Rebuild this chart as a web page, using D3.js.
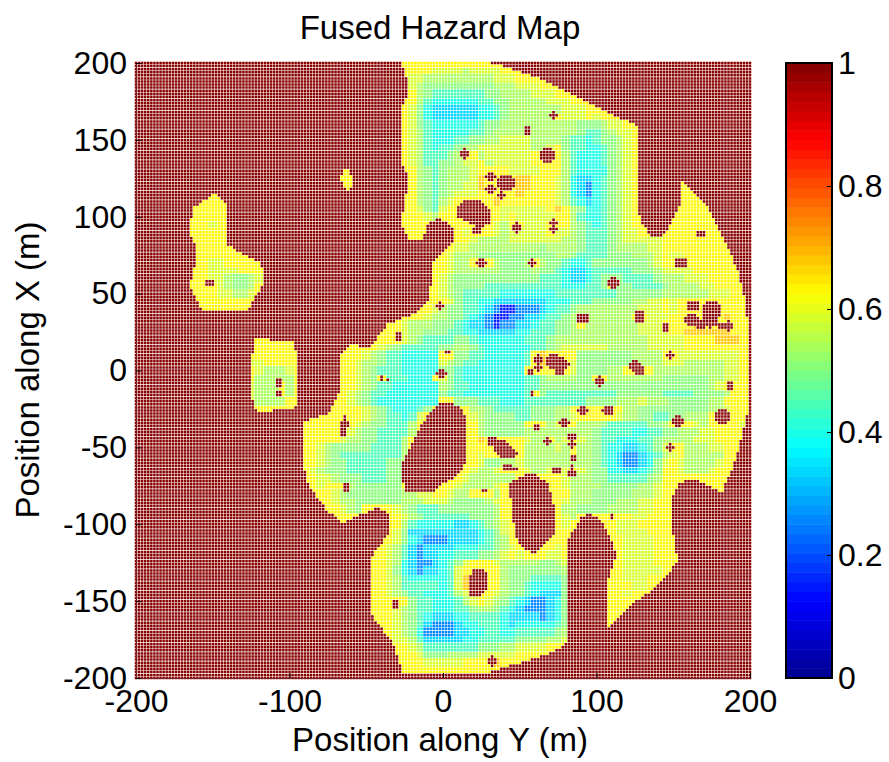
<!DOCTYPE html>
<html>
<head>
<meta charset="utf-8">
<script src="https://cdn.jsdelivr.net/npm/d3@7/dist/d3.min.js"></script>
<style>
  html, body { margin: 0; background: #fff; }
  text { font-family: "Liberation Sans", Arial, sans-serif; fill: #000; }
</style>
</head>
<body>
<svg id="chart" width="889" height="762"></svg>
<script>
// tick labels
const xTicks = [-200, -100, 0, 100, 200];
const yTicks = [-200, -150, -100, -50, 0, 50, 100, 150, 200];
const barTicks = [0, 0.2, 0.4, 0.6, 0.8, 1];

// one digit of the grid -> hazard value
const hazardLevels = [0.15, 0.26, 0.33, 0.40, 0.45, 0.50, 0.54, 0.59, 0.63, 0.68];
const rimLevel = 0.63;

// hazard, 5 m grid, one row per X from 200 down to -200.
// Blocks of 10 columns (50 m) from Y = -200, a short block is filled up with #
const hazardRows = [
  "# # # #####88888 8888888",
  "# # # #####88887 7776777788 8",
  "# # # #####87766 6666666777 888",
  "# # # #####87655 5555555666 777888",
  "# # # ######8654 4444445566 6677788",
  "# # # #####88643 3333344556 666677788",
  "# # # #####87532 2222233456 6666667778 88",
  "# # # #####87532 2222233456 66666#7778 788",
  "# # # #####87543 3333345566 6666666655 567788",
  "# # # #####87643 3333445666 6#66666654 456778",
  "# # # #####87643 3344556677 7766665443 455678",
  "# # # #####87643 4456677777 7766785443 345678",
  "# # # #####87644 456#867777 778##86433 345678",
  "# # # #####87644 5567786777 778#886433 345678",
  "# # #######8## ######8654 566678#887 7778886433 335678",
  "# # #######88# ######8654 566679#8## 9988876322 345678",
  "# # #######88# ######8654 566779#### 9988876321 345678 #8",
  "# 8 # ######8654 567778#8#8 9888876321 345678 #88",
  "########88 88 # ######8654 67#####988 8888876432 345678 #8888",
  "#######888 88 # #####88754 78#8###877 7777898653 345678 #88888",
  "#######888 888 # #####88876 88#####878 7777788643 345678 888888",
  "#######888 788 # #####8888# #888##8768 #777#88654 345678 888888",
  "#######888 888 # #####888## ##878#8767 7777877654 4456778##8 888#888",
  "########88 888 # # ##88766667 7777776654 4456777778 8888888",
  "########88 8888 # # #877666666 6665666654 4456666778 88888888",
  "########88 88888 # #########8 8766655555 5555566544 4455566678 77888888",
  "#######888 7788888 # #########8 87668#8655 56#6554334 5555555678 8##888888",
  "#######888 7777888 # #########8 8766666655 5565543223 4444455567 777888888",
  "#######888 77655678## # #########8 7655555555 5554443223 4555444456 6677788888",
  "#######88# 8765568### # #########8 7655554444 4444443334 45#5544445 6666778888",
  "#######888 8776678 # #########8 7654444433 3333344444 4445555556 6666677788",
  "########88 888888 # ########## 8754433222 2222333444 5555566778 78##8#8888",
  "#########8 88888 # #######887 6554432100 1112344566 6666667778 78##8###88",
  "# # # #####88876 6554321001 12234456#6 66666##777 88#####988",
  "# # # ###8876665 5543221011 22344556#6 666666777# 88#9##8##8",
  "# # # ##88876655 5443322222 3344455666 6666667777 8899999988",
  "# ######8888 8 #888#76544 4455433333 3444566666 6666666777 7788889998",
  "# ######8888 8#######88 8876544444 5566543333 3344567777 7766666777 7788888888",
  "# #####88888 88#####888 7654433333 #855443333 34#9###855 555556666# 8777777778",
  "# #####77888 88#####887 6654433333 7654433333 34#9###755 5555566667 7766666778",
  "# #####87666 78#####887 6544433333 5543333333 3##8###755 55668##866 6666666778",
  "# #####86666 68#####887 65#444333# 7543333333 3445666655 #866666665 5555566778",
  "# #####7666# 68#####887 6544333333 6544333333 3445555555 5555555555 5555567#88",
  "# #####7666# 68#####876 5443333333 5443333333 34#5444444 4445555554 4445555688",
  "# #####76666 88####8876 5433333333 #855544433 3444444445 5556667666 5555566888",
  "# #####88888 8#####8888 765433345# ###8665444 44555668#8 8##8665555 5555566788",
  "# # ####888#88 76544347## ####765555 4455566788 8887665544 556668#888",
  "# # ##88888#87 6554446### ####865555 58#867#866 6544444556 ##8768#887",
  "# # ##88888#76 5544446### ####865555 5666666666 5444433445 5666778888",
  "# # ##88888766 554446#### ####89#8#8 8766#67#76 5443334456 666777888#",
  "# # ##88765555 544446#### ####88#### 8666676866 5433223457 #86667788#",
  "# # ##88765444 444446#### ####8788## 8666666#66 5432112346 786666688#",
  "# # ##88765544 444556#### ####875566 7666666666 5432112357 87666678##",
  "# # ##87655544 44455##### ###87667#8 #7667#7#76 5533223458 87666788##",
  "# # ###8776555 44455##### ##87666666 8####87666 5544444568 88##8888##",
  "# # ###878#865 55555##### #87666678# #####87666 6555556678 8####888##",
  "# # ####887655 5555566778 87668#868# #####88666 5555566678 #####88###",
  "# # ####887665 5555566677 765555678# #####87666 5556667788",
  "# # #####88765 8##8765444 555555568# #####86655 5566667788",
  "# # ######888# ####876544 444455568# #####8768# 88#8877888",
  "# # #######88# ####864333 3322345678 #####878## #887778888",
  "# # # ###8752222 2222234578 #####88### ##87777888",
  "# # # ##88753211 1222234568 #####88### ###8777788",
  "# # # #887642122 2233344567 8###878### ###8777788",
  "# # # #887642122 3344455678 78#877#### ###8777788",
  "# # # #887632112 3457888766 6665567### ###8777788 8",
  "# # # #887532122 3478###865 5555556### ##88777778",
  "# # # #887643333 3479###865 5544445### ##8877788#",
  "# # # #887644444 3479###865 5433335### ##888778##",
  "# # # #887654433 3467###765 5432225### ##88788###",
  "# # # #888#85443 3346787654 3211235### ##8888####",
  "# # # #888765443 3344566543 2111235### ##888#####",
  "# # # #888765432 2233444432 2221235### ##88######",
  "# # # ##88765421 1123344432 3333345### ##8#######",
  "# # # ###8765311 1122334433 4444456###",
  "# # # ###8776422 2223344444 5555667###",
  "# # # ####887644 4444455566 777788####",
  "# # # #####88755 5666677777 8888######",
  "# # # #####88877 777888#988 8#########",
  "# # # #####88888 88888888##",
  "#"
];

// edges of the low hazard regions, [Y, X] in metres
const mainRegion = [
  [-27, 200.5], [30, 200.5], [48, 195], [63, 190], [76, 184], [85, 179], [92, 175], [100, 172],
  [113, 165], [126, 160], [127, 150], [128, 142], [127.5, 120], [127, 103], [130, 95], [135, 88],
  [143, 88], [146, 91], [149.5, 99], [155, 109], [156, 124], [164, 115], [172, 107], [178, 96],
  [185, 81.5], [193, 62], [197, 44], [198.5, 30], [198.5, -28], [195, -41], [191.5, -54], [187, -67],
  [184, -74], [182, -79], [174, -75], [163, -70], [154, -73], [150, -82], [148, -99], [151, -112],
  [153, -124], [139, -141], [126, -150], [109, -166], [107, -166], [107, -139], [110, -130], [113, -119],
  [107, -104], [103, -98], [96, -93], [90, -96], [85, -104], [81, -112], [81, -177], [70, -184],
  [55, -189], [33, -195], [31, -197], [-26, -197], [-32.5, -177], [-47.5, -158], [-47.5, -123], [-34.5, -104],
  [-36, -93], [-42, -89], [-52, -93], [-65, -99], [-75.5, -91], [-87, -76], [-90, -65], [-90, -33],
  [-75, -28], [-67, -13], [-66, 0], [-66, 10], [-60, 16.5], [-47.5, 15], [-36.5, 30], [-17, 38],
  [-8.5, 46], [-7, 70.5], [2.5, 80], [7, 85], [8, 90], [5, 95], [0, 98], [-2, 100],
  [-10, 95], [-13, 86], [-23, 86], [-28, 99], [-26, 103], [-23.5, 119], [-23.5, 129], [-27, 135.5],
  [-27, 171], [-23.5, 179], [-23.5, 190]
];
const leftIsland = [
  [-148.5, 115.5], [-141, 107.5], [-141, 96.5], [-142, 83.5], [-134, 77], [-119, 70.5], [-116, 61], [-119, 53],
  [-128, 38], [-157, 39], [-165, 54], [-161, 70], [-160, 80], [-165, 90], [-163, 106]
];
const smallIsland = [[-63, 132], [-59, 125], [-59, 119], [-61, 117], [-65, 120], [-67, 126]];
const lowerIsland = [
  [-122, 21], [-98, 18.5], [-95, 10], [-95, -22], [-97.5, -24.5], [-121, -27], [-126, -15], [-124, 10]
];

// large hazard holes inside the main region
const holeOval = [
  [2.5, -20.5], [11, -24], [16, -32], [16, -58], [11, -67], [-2, -75], [-5, -78], [-25, -78],
  [-28, -63], [-24, -55], [-19.5, -45], [-14, -35], [-8.5, -28], [-2, -22]
];
const holeMiddle = [
  [42, -73], [53, -68], [60, -67], [68, -73], [74, -93], [73, -106], [60, -119], [53, -117], [47, -108], [45, -89]
];
const holeRing = [[19, -129], [27, -129], [30, -134], [29, -141], [25, -146], [18, -146], [17, -138]];
const holeUpper = [[9, 107], [16, 112], [26, 110], [31, 103], [31, 96], [24, 93], [16, 97], [9, 99]];

// small hazard spots [Y, X, radius], metres
const hazardSpots = [
  [72, 166, 2.5], [55, 156, 2.5], [14, 141, 3], [68, 140, 5], [31, 126, 3], [31, 118, 3], [41, 122, 5.5], [38, 114, 2],
  [22, 91, 2.5], [48, 93, 3], [72, 96, 2], [72, 92, 2], [168, 89, 2.5], [25, 70, 3], [58, 70, 2], [111, 57, 3.5],
  [155, 70, 4], [128, 35, 4], [91, 34, 4], [145, 28, 2.5], [163, 42, 4], [162, 33, 4.5], [168, 30, 3], [175, 39, 6.5],
  [174, 33, 5], [186, 29, 3.5], [181, 29, 3], [2.5, 12, 2], [148, 10, 2], [62, 7, 3], [62, 2, 2.5], [72, 6, 5.5],
  [78, 4, 4], [76, 0, 3], [57, -1, 2], [125, 3, 3.5], [128, 0, 3], [-2, 42, 2.5], [-152, 57, 2.5], [-29, 22, 2.5],
  [-1, -2, 3], [-107, -8, 2.5], [-107, -15, 2.5], [-40, -5, 2], [-36, -6, 1.5], [-64, -31, 2], [-64, -35, 2.5],
  [-65, -40, 2.5], [-63, -76, 2.5], [-31, -152, 2.5], [102, -7, 3], [58, -15, 2], [91, -26, 3.5], [107.5, -26, 3.5],
  [153, -33, 4], [182, -30, 4.5], [187, -10, 2.5], [61, -37, 3], [79, -34, 3.5], [68, -46, 2], [84, -43, 2.5],
  [84, -48, 2.5], [148, -50, 2], [32, -46, 3], [38, -47, 2.5], [40, -52, 4.5], [45, -54, 3], [35, -51, 3],
  [85, -57, 2], [42, -63, 2.5], [47, -64, 2], [74, -65, 2.5], [84, -63, 2], [84, -67, 2.5], [27, -78, 2],
  [110, -95, 2], [32, -189, 3]
];

const svg = d3.select('#chart');
const plot = {left: 136, right: 750, top: 63, bottom: 678};
const bar = {left: 786, right: 832};

const x = d3.scaleLinear().domain([-200, 200]).range([plot.left, plot.right]);
const y = d3.scaleLinear().domain([-200, 200]).range([plot.bottom, plot.top]);
const barY = d3.scaleLinear().domain([0, 1]).range([plot.bottom, plot.top]);

// jet colormap, 64 steps like the figure
const jet = d3.scaleLinear()
  .domain([0, 0.125, 0.375, 0.625, 0.875, 1])
  .range(['#00008f', '#0000ff', '#00ffff', '#ffff00', '#ff0000', '#800000'])
  .clamp(true);
const barSteps = d3.range(64);
const stepColor = v => jet((Math.min(63, Math.floor(v * 64)) + 0.5) / 64);

// Grid values, # cells can still be low hazard where an edge runs through them
const grid = hazardRows.map(row => {
  let blocks = row.trim().split(/\s+/);
  let chars = d3.range(9).map(i => (blocks[i] || '#').padEnd(10, '#').slice(0, 10)).join('').slice(0, 81);
  return Array.from(chars).map(c => (c === '#' ? rimLevel : hazardLevels[+c]));
});

const safeRegions = [mainRegion, leftIsland, smallIsland, lowerIsland];
const holes = [holeOval, holeMiddle, holeRing, holeUpper];

function hazardAt (my, mx) {
  let p = [my, mx];
  if (!safeRegions.some(r => d3.polygonContains(r, p)))
    return 1;
  if (holes.some(h => d3.polygonContains(h, p)))
    return 1;
  if (hazardSpots.some(s => Math.hypot(s[0] - my, s[1] - mx) <= s[2]))
    return 1;
  return grid[Math.round((200 - mx) / 5)][Math.round((my + 200) / 5)];
}

// The figure plots a marker every 2 m, so one path per colour is enough
const meshStep = 2;
const markSize = 2.5;
const paths = new Map();
d3.range(-200, 201, meshStep).forEach(mx => {
  d3.range(-200, 201, meshStep).forEach(my => {
    let color = stepColor(hazardAt(my, mx));
    let px = x(my) - markSize / 2;
    let py = y(mx) - markSize / 2;
    let d = `M${px.toFixed(2)} ${py.toFixed(2)}h${markSize}v${markSize}h${-markSize}z`;
    paths.set(color, (paths.get(color) || '') + d);
  });
});

svg.append('g')
  .attr('class', 'mesh')
  .selectAll('path')
  .data(Array.from(paths))
  .enter()
  .append('path')
  .attr('fill', d => d[0])
  .attr('d', d => d[1]);

// Axes
const tickFont = '32px';
const xAxis = svg.append('g')
  .attr('class', 'x-axis')
  .attr('transform', `translate(0,${plot.bottom})`)
  .call(d3.axisBottom(x).tickValues(xTicks).tickFormat(String).tickSizeInner(-5).tickSizeOuter(0).tickPadding(11));
const yAxis = svg.append('g')
  .attr('class', 'y-axis')
  .attr('transform', `translate(${plot.left},0)`)
  .call(d3.axisLeft(y).tickValues(yTicks).tickFormat(String).tickSizeInner(-5).tickSizeOuter(0).tickPadding(9));
[xAxis, yAxis].forEach(a => {
  a.select('.domain').attr('stroke', '#7a2020').attr('stroke-width', 1);
  a.selectAll('text').style('font-size', tickFont);
});

// Colorbar
svg.append('g')
  .attr('class', 'colorbar')
  .selectAll('rect')
  .data(barSteps)
  .enter()
  .append('rect')
  .attr('x', bar.left)
  .attr('width', bar.right - bar.left)
  .attr('y', d => barY((d + 1) / 64))
  .attr('height', d => barY(d / 64) - barY((d + 1) / 64) + 0.5)
  .attr('fill', d => stepColor((d + 0.5) / 64));

svg.append('rect')
  .attr('x', bar.left)
  .attr('y', plot.top)
  .attr('width', bar.right - bar.left)
  .attr('height', plot.bottom - plot.top)
  .attr('fill', 'none')
  .attr('stroke', '#000')
  .attr('stroke-width', 2);

const barAxis = svg.append('g')
  .attr('class', 'bar-axis')
  .attr('transform', `translate(${bar.right},0)`)
  .call(d3.axisRight(barY).tickValues(barTicks).tickFormat(String).tickSizeInner(-5).tickSizeOuter(0).tickPadding(6));
barAxis.select('.domain').remove();
barAxis.selectAll('text').style('font-size', tickFont);

// Labels
svg.append('text')
  .attr('x', 440)
  .attr('y', 39)
  .attr('text-anchor', 'middle')
  .style('font-size', '33px')
  .text('Fused Hazard Map');
svg.append('text')
  .attr('x', 440)
  .attr('y', 751)
  .attr('text-anchor', 'middle')
  .style('font-size', '33px')
  .text('Position along Y (m)');
svg.append('text')
  .attr('transform', 'translate(39,370) rotate(-90)')
  .attr('text-anchor', 'middle')
  .style('font-size', '33px')
  .text('Position along X (m)');
</script>
</body>
</html>
